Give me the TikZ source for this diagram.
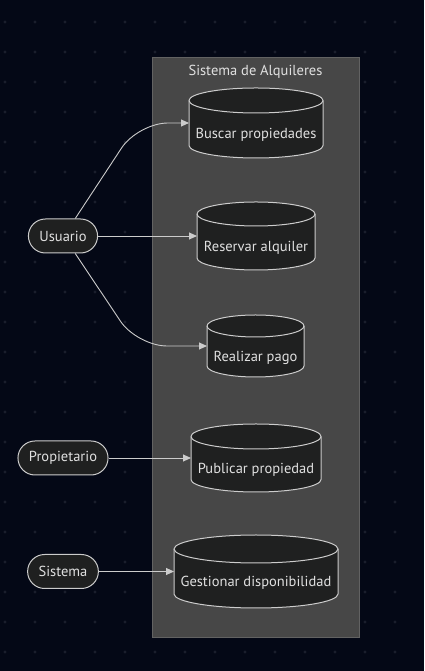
\documentclass[tikz,border=0pt]{standalone}
\usepackage{fontspec}
\setmainfont{PT Sans}
\usepackage{tikz}
\usetikzlibrary{arrows.meta, positioning, backgrounds}
\usepackage{xcolor}
\definecolor{bgdark}{HTML}{040816}
\definecolor{dotgray}{HTML}{1A1E2C}
\definecolor{subfill}{HTML}{474747}
\definecolor{subline}{HTML}{626262}
\definecolor{dbfill}{HTML}{1F2020}
\definecolor{lightline}{HTML}{CCCCCC}
\definecolor{lighttext}{HTML}{E0E0E0}

%% cylinder outline round a named node: name, x radius, y radius
\newcommand{\dbshape}[3]{%
  \draw[dbline, fill=dbfill] ([yshift=-#3pt]#1.north west) -- ([yshift=#3pt]#1.south west)
    arc[start angle=180, end angle=360, x radius=#2, y radius=#3]
    -- ([yshift=-#3pt]#1.north east)
    arc[start angle=0, end angle=180, x radius=#2, y radius=#3] -- cycle;
  \draw[dbline] ([yshift=-#3pt]#1.north west)
    arc[start angle=180, end angle=360, x radius=#2, y radius=#3];
}

\begin{document}
\begin{tikzpicture}[
    x=1pt, y=1pt,
    db/.style    = {draw=none, outer sep=0pt, inner ysep=0pt, align=center,
                    text=lighttext, font=\fontsize{14.5}{16}\selectfont,
                    text height=35pt, text depth=4pt},
    actor/.style = {draw=lightline, fill=dbfill, rounded corners=17pt,
                    minimum height=34pt, inner xsep=11pt, line width=1pt,
                    text=lighttext, font=\fontsize{14.5}{16}\selectfont},
    dbline/.style = {draw=lightline, line width=1pt},
    edge/.style  = {-{Triangle[length=8pt, width=7pt]}, line width=0.9pt, color=lightline},
  ]
    \useasboundingbox (0,0) rectangle (424,671);

    %% ── Use cases ───────────────────────────────────────────────────────────
    \node[db, minimum width=134pt, minimum height=70pt] (buscar)    at (256, 548)   {Buscar propiedades};
    \node[db, minimum width=118pt, minimum height=68pt] (reservar)  at (256, 435)   {Reservar alquiler};
    \node[db, minimum width=97pt,  minimum height=62pt] (realizar)  at (255.5, 325) {Realizar pago};
    \node[db, minimum width=130pt, minimum height=68pt] (publicar)  at (256, 213)   {Publicar propiedad};
    \node[db, minimum width=164pt, minimum height=73pt] (gestionar) at (256, 99.5)  {Gestionar disponibilidad};

    %% ── Actors ──────────────────────────────────────────────────────────────
    \node[actor] (usuario)     at (63, 435)  {Usuario};
    \node[actor] (propietario) at (63, 213)  {Propietario};
    \node[actor] (sistema)     at (63, 99.5) {Sistema};

    %% ── Background, grid dots, system box, cylinders ───────────────────────
    \begin{scope}[on background layer]
      \fill[bgdark] (0,0) rectangle (424,671);
      \foreach \i in {0,...,13}
        \foreach \j in {0,...,21}
          \fill[dotgray] (5+30*\i, 649-30*\j) circle (1.6);
      \node[draw=subline, fill=subfill, line width=1pt, minimum width=207pt,
            minimum height=580pt] (sys) at (255.5, 323) {};
      \dbshape{buscar}{67}{12.5}
      \dbshape{reservar}{59}{12}
      \dbshape{realizar}{48.5}{11}
      \dbshape{publicar}{65}{12.5}
      \dbshape{gestionar}{82}{14}
    \end{scope}

    \node[below=4pt of sys.north, text=lighttext, font=\fontsize{14.5}{16}\selectfont]
          (systitle) {Sistema de Alquileres};

    %% ── Connectors ─────────────────────────────────────────────────────────
    \draw[edge, rounded corners=30pt] (usuario.55) -- ([xshift=-51pt]buscar.west) -- (buscar.west);
    \draw[edge] (usuario) -- (reservar);
    \draw[edge, rounded corners=30pt] (usuario.-55) -- ([xshift=-70pt]realizar.west) -- (realizar.west);
    \draw[edge] (propietario) -- (publicar);
    \draw[edge] (sistema) -- (gestionar);

  \end{tikzpicture}
\end{document}
